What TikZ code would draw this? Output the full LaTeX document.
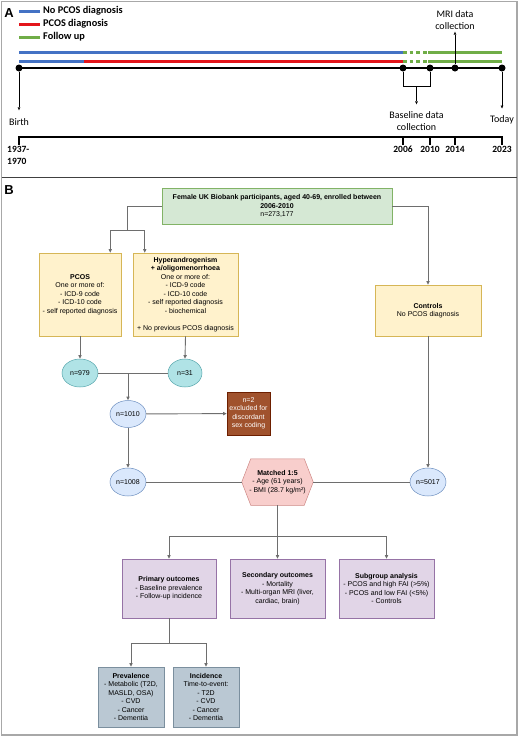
\documentclass[tikz,border=0pt]{standalone}
\usepackage{fontspec}
\setmainfont{Liberation Sans}
\newfontfamily\carlito{Carlito}
\usetikzlibrary{arrows.meta,backgrounds,shapes.geometric}

% timeline colours
\definecolor{nopcos}{HTML}{4472C4}
\definecolor{pcosred}{HTML}{E3151B}
\definecolor{follow}{HTML}{70AD47}
% flow chart colours
\definecolor{gfill}{HTML}{D5E8D4}\definecolor{gline}{HTML}{82B366}
\definecolor{yfill}{HTML}{FFF2CC}\definecolor{yline}{HTML}{D6B656}
\definecolor{cfill}{HTML}{B0E3E6}\definecolor{cline}{HTML}{0E8088}
\definecolor{bfill}{HTML}{DAE8FC}\definecolor{bline}{HTML}{6C8EBF}
\definecolor{brfill}{HTML}{A0522D}\definecolor{brline}{HTML}{6D1F00}
\definecolor{pfill}{HTML}{F8CECC}\definecolor{pline}{HTML}{B85450}
\definecolor{vfill}{HTML}{E1D5E7}\definecolor{vline}{HTML}{9673A6}
\definecolor{sfill}{HTML}{BAC8D3}\definecolor{sline}{HTML}{23445D}
\definecolor{connc}{HTML}{6E6E6E}
\definecolor{framec}{HTML}{A8A8A8}

\tikzset{
  dot/.style={circle,fill=black,inner sep=0pt,minimum size=7pt},
  tarrow/.style={-{Triangle[length=3pt,width=2.6pt]},line width=0.45pt},
  legend/.style={anchor=west,inner sep=0pt,font=\carlito\bfseries\fontsize{10.3}{12}\selectfont},
  lbl/.style={align=center,inner sep=0pt,font=\carlito\fontsize{10}{12}\selectfont},
  yr/.style={anchor=north,inner sep=0pt,font=\carlito\bfseries\fontsize{9.5}{12}\selectfont},
  panel/.style={inner sep=0pt,font=\bfseries\fontsize{13}{15}\selectfont},
  bx/.style={draw,line width=0.5pt,align=center,inner sep=1pt,font=\fontsize{7}{8.5}\selectfont},
  greenbox/.style={bx,fill=gfill,draw=gline},
  yellowbox/.style={bx,fill=yfill,draw=yline},
  brownbox/.style={bx,fill=brfill,draw=brline,text=white},
  purplebox/.style={bx,fill=vfill,draw=vline},
  slatebox/.style={bx,fill=sfill,draw=sline!60},
  cyanoval/.style={bx,ellipse,fill=cfill,draw=cline!70,inner sep=0pt},
  blueoval/.style={bx,ellipse,fill=bfill,draw=bline,inner sep=0pt},
  conn/.style={draw=connc,line width=0.9pt},
  arr/.style={conn,-{Triangle[length=3.6pt,width=3.2pt]}},
}

\begin{document}
\begin{tikzpicture}[x=1pt,y=-1pt]
  \useasboundingbox (0,0) rectangle (520,737);
  % frame and divider
  \draw[framec,line width=1.5pt] (1.5,1.5) rectangle (517,735);
  \draw[black!75,line width=0.8pt] (1.5,177) -- (517,177);

  % ---------- A. timeline ----------
  \node[panel] (labA) at (9,13) {A};
  \draw[line width=3pt,nopcos] (19,11) -- (40,11);
  \node[legend] (legA) at (43,11) {No PCOS diagnosis};
  \draw[line width=3pt,pcosred] (19,24) -- (40,24);
  \node[legend] (legB) at (43,24) {PCOS diagnosis};
  \draw[line width=3pt,follow] (19,37) -- (40,37);
  \node[legend] (legC) at (43,37) {Follow up};

  % bars
  \draw[line width=3pt,nopcos] (19,52) -- (403,52);
  \draw[line width=3pt,nopcos] (19,61) -- (84,61);
  \draw[line width=3pt,pcosred] (84,61) -- (403,61);
  \draw[line width=3pt,follow,dash pattern=on 3.5pt off 3.2pt] (403,52) -- (428,52);
  \draw[line width=3pt,follow,dash pattern=on 3.5pt off 3.2pt] (403,61) -- (428,61);
  \draw[line width=3pt,follow] (428,52) -- (502,52);
  \draw[line width=3pt,follow] (428,61) -- (502,61);
  \draw[line width=2pt] (19,68) -- (502,68);

  % events
  \node[dot] (d1937) at (19,68) {};
  \node[dot] (d2006) at (403,68) {};
  \node[dot] (d2010) at (430,68) {};
  \node[dot] (d2014) at (455,68) {};
  \node[dot] (d2023) at (502,68) {};

  \node[lbl] (birth) at (19,122) {Birth};
  \node[lbl] (base) at (416.5,121) {Baseline data\\collection};
  \node[lbl] (mri) at (455,20) {MRI data\\collection};
  \node[lbl] (today) at (502,120) {Today};
  \coordinate (bkt) at (416.5,86.5);

  \draw[tarrow,shorten >=8pt] (d1937) -- (birth.north);
  \draw[line width=0.45pt] (d2006) |- (bkt) -| (d2010);
  \draw[tarrow,shorten >=7pt] (bkt) -- (base.north);
  \draw[tarrow,shorten >=2pt] (d2014) -- (mri.south);
  \draw[tarrow,shorten >=7pt] (d2023) -- (today.north);

  % years
  \draw[line width=1.5pt] (18.2,137) -- (502.7,137);
  \foreach \x in {19,403,430,455,502}
    \draw[line width=1.8pt] (\x,136.3) -- (\x,145);
  \node[yr,anchor=north west,align=left] (y1937) at (7,146) {1937-\\1970};
  \node[yr] (y2006) at (403,146) {2006};
  \node[yr] (y2010) at (430,146) {2010};
  \node[yr] (y2014) at (455,146) {2014};
  \node[yr] (y2023) at (502,146) {2023};

  % ---------- B. flow chart ----------
  \node[panel] (labB) at (9,190) {B};

  % 1. cohort
  \node[greenbox,minimum width=230pt,minimum height=36pt] (top) at (277,206)
    {\textbf{Female UK Biobank participants, aged 40-69, enrolled between}\\\textbf{2006-2010}\\n=273,177};

  % 2. groups
  \node[yellowbox,minimum width=82pt,minimum height=83pt] (pcos) at (80,294.5)
    {\textbf{PCOS}\\One or more of:\\- ICD-9 code\\- ICD-10 code\\- self reported diagnosis};
  \node[yellowbox,minimum width=105pt,minimum height=83pt] (hyper) at (185.5,294.5)
    {\textbf{Hyperandrogenism}\\\textbf{+ a/oligomenorrhoea}\\One or more of:\\- ICD-9 code\\- ICD-10 code\\- self reported diagnosis\\- biochemical\\[8.5pt]+ No previous PCOS diagnosis};
  \node[yellowbox,minimum width=106pt,minimum height=51pt] (controls) at (428,310.5)
    {\textbf{Controls}\\No PCOS diagnosis};

  % 3. counts
  \node[cyanoval,minimum width=36pt,minimum height=28pt] (n979) at (80,373) {n=979};
  \node[cyanoval,minimum width=34pt,minimum height=28pt] (n31) at (185,373) {n=31};
  \node[blueoval,minimum width=36pt,minimum height=27pt] (n1010) at (128,414) {n=1010};
  \node[brownbox,minimum width=43pt,minimum height=43pt] (excl) at (248.5,413.5)
    {n=2\\excluded for\\discordant\\sex coding};
  \node[blueoval,minimum width=36pt,minimum height=28pt] (n1008) at (128,482) {n=1008};
  \node[blueoval,minimum width=36pt,minimum height=28pt] (n5017) at (428,482) {n=5017};

  % 4. matching
  \node[bx,draw=none,minimum width=71pt,minimum height=46pt] (hex) at (277.5,482)
    {\textbf{Matched 1:5}\\- Age (61 years)\\- BMI (28.7 kg/m²)};
  \begin{pgfonlayer}{background}
    \draw[fill=pfill,draw=pline!70,line width=0.5pt] (hex.west) -- ([xshift=9pt]hex.north west)
      -- ([xshift=-9pt]hex.north east) -- (hex.east) -- ([xshift=-9pt]hex.south east)
      -- ([xshift=9pt]hex.south west) -- cycle;
  \end{pgfonlayer}

  % 5. outcomes
  \node[purplebox,minimum width=94pt,minimum height=59pt] (prim) at (169,588.5)
    {\textbf{Primary outcomes}\\- Baseline prevalence\\- Follow-up incidence};
  \node[purplebox,minimum width=95pt,minimum height=59pt] (sec) at (277.5,588.5)
    {\textbf{Secondary outcomes}\\- Mortality\\- Multi-organ MRI (liver,\\cardiac, brain)};
  \node[purplebox,minimum width=95pt,minimum height=59pt] (sub) at (386.5,588.5)
    {\textbf{Subgroup analysis}\\- PCOS and high FAI (>5\%)\\- PCOS and low FAI (<5\%)\\- Controls};
  \node[slatebox,minimum width=66pt,minimum height=60pt] (prev) at (131,697)
    {\textbf{Prevalence}\\- Metabolic (T2D,\\MASLD, OSA)\\- CVD\\- Cancer\\- Dementia};
  \node[slatebox,minimum width=66pt,minimum height=60pt] (inc) at (206,697)
    {\textbf{Incidence}\\Time-to-event:\\- T2D\\- CVD\\- Cancer\\- Dementia};

  % connectors
  \coordinate (split) at (127,230);
  \draw[conn] (top.west) -| (split);
  \draw[arr] (split) -| ([xshift=-11pt]pcos.north east);
  \draw[arr] (split) -| ([xshift=12pt]hyper.north west);
  \draw[arr] (top.east) -| (controls.north);
  \draw[arr] (pcos.south) -- (n979.north);
  \draw[arr] (hyper.south) -- (n31.north);
  \draw[conn] (n979) -- (n31);
  \coordinate (jn) at (n1010 |- n979);
  \draw[arr] (jn) -- (n1010.north);
  \draw[arr] (n1010) -- (excl);
  \draw[arr] (n1010) -- (n1008);
  \draw[conn] (n1008) -- (hex.west);
  \draw[conn] (hex.east) -- (n5017);
  \draw[arr] (controls.south) -- (n5017.north);
  \coordinate (jo) at (277.5,536);
  \draw[conn] (hex.south) -- (jo);
  \draw[arr] (jo) -| (prim.north);
  \draw[arr] (jo) -- (sec.north);
  \draw[arr] (jo) -| (sub.north);
  \coordinate (jp) at (169,643);
  \draw[conn] (prim.south) -- (jp);
  \draw[arr] (jp) -| (prev.north);
  \draw[arr] (jp) -| (inc.north);
\end{tikzpicture}
\end{document}
